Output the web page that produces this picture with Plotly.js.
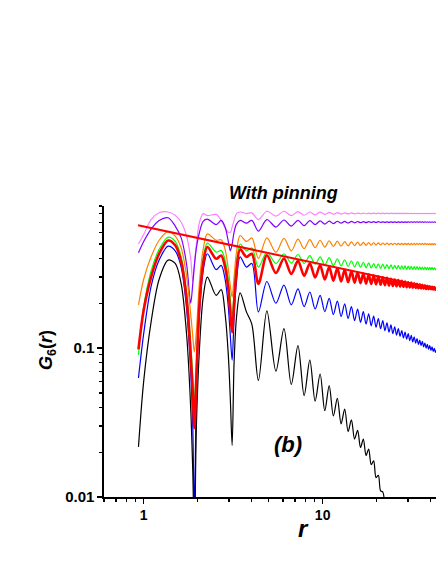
<!DOCTYPE html>
<html>
<head>
<meta charset="utf-8">
<script src="https://cdn.plot.ly/plotly-3.0.1.min.js"></script>
<style>html,body{margin:0;padding:0;background:#fff;}#chart{width:436px;height:564px;}</style>
</head>
<body>
<div id="chart"></div>
<script>
// ---- data ----
const rEarly = [0.935, 1.0, 1.1, 1.22, 1.37, 1.5, 1.62, 1.74, 1.83, 1.88, 1.92, 1.97, 2.05, 2.15, 2.27, 2.54, 2.71, 2.85, 2.97, 3.05, 3.12, 3.2, 3.3, 3.46, 3.75, 4.02, 4.375];
const rLate = [4.88, 5.48, 6.08, 6.68, 7.28, 7.88, 8.48, 9.08, 9.68, 10.28,
  10.88, 11.48, 12.08, 12.68, 13.28, 13.88, 14.48, 15.08, 15.68, 16.28,
  16.88, 17.48, 18.08, 18.68, 19.28, 19.88, 20.48, 21.08, 21.68, 22.28,
  22.88, 23.48, 24.08, 24.68, 25.28, 25.88, 26.48, 27.08, 27.68, 28.28,
  28.88, 29.48, 30.08, 30.68, 31.28, 31.88, 32.48, 33.08, 33.68, 34.28,
  34.88, 35.48, 36.08, 36.68, 37.28, 37.88, 38.48, 39.08, 39.68, 40.28,
  40.88, 41.48, 42.08, 42.68, 43.28];

const gPinkEarly   = [0.50, 0.58, 0.73, 0.81, 0.82, 0.78, 0.70, 0.56, 0.40, 0.28, 0.36, 0.50, 0.70, 0.80, 0.775, 0.79, 0.72, 0.64, 0.60, 0.60, 0.65, 0.72, 0.80, 0.82, 0.80, 0.81, 0.73];
const gVioletEarly = [0.437, 0.52, 0.63, 0.72, 0.75, 0.66, 0.55, 0.36, 0.20, 0.27, 0.36, 0.47, 0.60, 0.71, 0.735, 0.675, 0.72, 0.65, 0.52, 0.45, 0.50, 0.60, 0.68, 0.72, 0.69, 0.72, 0.61];
const gOrangeEarly = [0.195, 0.29, 0.41, 0.53, 0.605, 0.565, 0.47, 0.30, 0.17, 0.12, 0.094, 0.13, 0.28, 0.46, 0.585, 0.53, 0.533, 0.46, 0.34, 0.26, 0.22, 0.30, 0.44, 0.57, 0.52, 0.55, 0.40];
const gGreenEarly  = [0.090, 0.19, 0.33, 0.46, 0.556, 0.52, 0.41, 0.23, 0.11, 0.065, 0.045, 0.08, 0.22, 0.40, 0.507, 0.441, 0.453, 0.39, 0.29, 0.21, 0.165, 0.24, 0.37, 0.50, 0.45, 0.47, 0.35];
const gRedEarly    = [0.098, 0.18, 0.30, 0.43, 0.528, 0.49, 0.38, 0.21, 0.09, 0.05, 0.029, 0.065, 0.20, 0.37, 0.477, 0.398, 0.419, 0.35, 0.25, 0.17, 0.128, 0.20, 0.33, 0.46, 0.41, 0.43, 0.27];
const gBlueEarly   = [0.063, 0.125, 0.26, 0.39, 0.484, 0.45, 0.35, 0.18, 0.07, 0.03, 0.008, 0.05, 0.17, 0.33, 0.43, 0.336, 0.359, 0.29, 0.19, 0.12, 0.083, 0.16, 0.28, 0.41, 0.35, 0.37, 0.175];
const gBlackEarly  = [0.0217, 0.06, 0.15, 0.29, 0.39, 0.37, 0.27, 0.12, 0.04, 0.015, 0.005, 0.03, 0.10, 0.22, 0.30, 0.226, 0.247, 0.17, 0.09, 0.045, 0.0222, 0.08, 0.16, 0.235, 0.175, 0.145, 0.0607];

const gPinkLate = [0.83, 0.77, 0.83, 0.775, 0.825, 0.78, 0.82, 0.785, 0.818, 0.79,
  0.815, 0.792, 0.812, 0.794, 0.81, 0.796, 0.808, 0.797, 0.807, 0.798,
  0.806, 0.798, 0.806, 0.799, 0.805, 0.799, 0.805, 0.8, 0.805, 0.8,
  0.804, 0.8, 0.804, 0.8, 0.804, 0.8, 0.804, 0.8, 0.804, 0.8,
  0.804, 0.8, 0.804, 0.8, 0.804, 0.8, 0.804, 0.8, 0.804, 0.8,
  0.804, 0.8, 0.804, 0.8, 0.804, 0.8, 0.804, 0.8, 0.804, 0.8,
  0.804, 0.8, 0.804, 0.8, 0.804];
const gVioletLate = [0.73, 0.65, 0.725, 0.66, 0.72, 0.665, 0.718, 0.675, 0.715, 0.68,
  0.713, 0.685, 0.711, 0.69, 0.71, 0.692, 0.709, 0.694, 0.708, 0.695,
  0.707, 0.696, 0.707, 0.697, 0.706, 0.697, 0.706, 0.698, 0.705, 0.698,
  0.705, 0.698, 0.705, 0.698, 0.705, 0.698, 0.705, 0.698, 0.705, 0.698,
  0.705, 0.698, 0.705, 0.698, 0.705, 0.698, 0.705, 0.698, 0.705, 0.698,
  0.705, 0.698, 0.705, 0.698, 0.705, 0.698, 0.705, 0.698, 0.705, 0.698,
  0.705, 0.698, 0.705, 0.698, 0.705];
const gOrangeLate = [0.55, 0.44, 0.545, 0.45, 0.54, 0.465, 0.535, 0.472, 0.53, 0.477,
  0.526, 0.481, 0.522, 0.484, 0.519, 0.486, 0.516, 0.488, 0.514, 0.489,
  0.512, 0.49, 0.511, 0.491, 0.51, 0.492, 0.509, 0.493, 0.508, 0.4935,
  0.507, 0.494, 0.506, 0.4945, 0.506, 0.495, 0.505, 0.495, 0.505, 0.495,
  0.505, 0.495, 0.505, 0.495, 0.505, 0.495, 0.505, 0.495, 0.505, 0.495,
  0.505, 0.495, 0.505, 0.495, 0.505, 0.495, 0.504, 0.495, 0.504, 0.495,
  0.504, 0.495, 0.504, 0.495, 0.504];
const gGreenLate = [0.44, 0.37, 0.43, 0.372, 0.425, 0.37, 0.418, 0.366, 0.41, 0.362,
  0.405, 0.358, 0.398, 0.356, 0.392, 0.353, 0.386, 0.351, 0.381, 0.349,
  0.377, 0.347, 0.373, 0.345, 0.37, 0.344, 0.368, 0.343, 0.366, 0.342,
  0.364, 0.341, 0.362, 0.34, 0.36, 0.3395, 0.358, 0.339, 0.357, 0.3385,
  0.356, 0.338, 0.355, 0.3378, 0.354, 0.3375, 0.353, 0.3372, 0.352, 0.337,
  0.351, 0.3368, 0.35, 0.3366, 0.3495, 0.3364, 0.349, 0.3362, 0.3485, 0.336,
  0.348, 0.3358, 0.3475, 0.3356, 0.347];
const gRedLate = [0.42, 0.319, 0.40, 0.315, 0.385, 0.306, 0.37, 0.298, 0.36, 0.289,
  0.35, 0.284, 0.343, 0.280, 0.336, 0.277, 0.329, 0.275, 0.323, 0.273,
  0.317, 0.271, 0.312, 0.270, 0.307, 0.268, 0.303, 0.266, 0.299, 0.264,
  0.296, 0.263, 0.292, 0.261, 0.289, 0.260, 0.286, 0.259, 0.283, 0.258,
  0.280, 0.2566, 0.277, 0.2553, 0.275, 0.2542, 0.272, 0.253, 0.270, 0.252,
  0.268, 0.251, 0.266, 0.2504, 0.264, 0.2496, 0.262, 0.249, 0.260, 0.2483,
  0.258, 0.2476, 0.257, 0.2471, 0.255];
const gBlueLate = [0.28, 0.2, 0.265, 0.195, 0.25, 0.19, 0.238, 0.183, 0.226, 0.176,
  0.216, 0.168, 0.207, 0.163, 0.198, 0.158, 0.19, 0.153, 0.183, 0.149,
  0.176, 0.145, 0.17, 0.141, 0.164, 0.138, 0.158, 0.135, 0.153, 0.131,
  0.148, 0.128, 0.143, 0.125, 0.139, 0.122, 0.135, 0.12, 0.131, 0.117,
  0.128, 0.115, 0.125, 0.112, 0.122, 0.11, 0.119, 0.108, 0.116, 0.106,
  0.113, 0.104, 0.111, 0.102, 0.108, 0.1, 0.106, 0.098, 0.104, 0.0965,
  0.102, 0.095, 0.0995, 0.0935, 0.0975];
const gBlackLate = [0.178, 0.07, 0.135, 0.057, 0.104, 0.048, 0.083, 0.044, 0.067, 0.038,
  0.056, 0.035, 0.046, 0.031, 0.039, 0.0275, 0.033, 0.0245, 0.028, 0.0215,
  0.0245, 0.019, 0.021, 0.0165, 0.0175, 0.0135, 0.014, 0.011, 0.0108, 0.0082];

// power-law fit line (straight on log-log)
const fitR = [0.93, 43.3];
const fitG = [0.668, 0.25];

const xTickVals = [1, 10];
const xTickText = ['1', '10'];
const xMinorVals = [0.6, 0.7, 0.8, 0.9, 2, 3, 4, 5, 6, 7, 8, 9, 20, 30, 40];
const yTickVals = [0.01, 0.1];
const yTickText = ['0.01', '0.1'];
const yMinorVals = [0.02, 0.03, 0.04, 0.05, 0.06, 0.07, 0.08, 0.09, 0.2, 0.3, 0.4, 0.5, 0.6, 0.7, 0.8, 0.9];

// ---- build traces ----
const r = rEarly.concat(rLate);
function curve(early, late, color, width) {
  const g = early.concat(late);
  return {
    x: r.slice(0, g.length), y: g, type: 'scatter', mode: 'lines',
    line: {color: color, width: width, shape: 'spline', smoothing: 0.9},
    hoverinfo: 'skip', showlegend: false
  };
}
const traces = [
  curve(gPinkEarly, gPinkLate, '#ff80ff', 1.2),
  curve(gVioletEarly, gVioletLate, '#8000ff', 1.2),
  curve(gOrangeEarly, gOrangeLate, '#ff8000', 1.2),
  curve(gGreenEarly, gGreenLate, '#00ff00', 1.2),
  curve(gBlueEarly, gBlueLate, '#0000ff', 1.2),
  curve(gBlackEarly, gBlackLate, '#000000', 1.2),
  curve(gRedEarly, gRedLate, '#ff0000', 2.6),
  {x: fitR, y: fitG, type: 'scatter', mode: 'lines', line: {color: '#ff0000', width: 2},
   hoverinfo: 'skip', showlegend: false}
];

const FONT = 'Liberation Sans, Arial, sans-serif';
const layout = {
  width: 436, height: 564,
  margin: {l: 104, r: 0, t: 206, b: 67, pad: 0},
  paper_bgcolor: '#ffffff', plot_bgcolor: '#ffffff',
  showlegend: false,
  xaxis: {
    type: 'log', range: [Math.log10(0.6), Math.log10(43)],
    tickmode: 'array', tickvals: xTickVals, ticktext: xTickText,
    ticks: 'outside', ticklen: 5, tickwidth: 1.5, tickcolor: '#000',
    minor: {tickmode: 'array', tickvals: xMinorVals, ticks: 'outside', ticklen: 3, tickwidth: 1.2, tickcolor: '#000', showgrid: false},
    showline: true, linecolor: '#000', linewidth: 1.6, mirror: false,
    showgrid: false, zeroline: false,
    tickfont: {family: FONT, size: 14, color: '#000', weight: 'bold'}
  },
  yaxis: {
    type: 'log', range: [-2, -0.0458],
    tickmode: 'array', tickvals: yTickVals, ticktext: yTickText,
    ticks: 'outside', ticklen: 5, tickwidth: 1.5, tickcolor: '#000',
    minor: {tickmode: 'array', tickvals: yMinorVals, ticks: 'outside', ticklen: 3, tickwidth: 1.2, tickcolor: '#000', showgrid: false},
    showline: true, linecolor: '#000', linewidth: 1.6, mirror: false,
    showgrid: false, zeroline: false,
    tickfont: {family: FONT, size: 15, color: '#000', weight: 'bold'}
  },
  annotations: [
    {text: '<b><i>With pinning</i></b>', xref: 'paper', yref: 'paper', x: 0.542, y: 1.0437,
     xanchor: 'center', yanchor: 'middle', showarrow: false, font: {family: FONT, size: 18, color: '#000'}},
    {text: '<b><i>(b)</i></b>', xref: 'paper', yref: 'paper', x: 0.554, y: 0.181,
     xanchor: 'center', yanchor: 'middle', showarrow: false, font: {family: FONT, size: 22, color: '#000'}},
    {text: '<b><i>r</i></b>', xref: 'paper', yref: 'paper', x: 0.602, y: -0.107,
     xanchor: 'center', yanchor: 'middle', showarrow: false, font: {family: FONT, size: 24, color: '#000'}},
    {text: '<b><i>G</i><sub>6</sub>(<i>r</i>)</b>', xref: 'paper', yref: 'paper', x: -0.1717, y: 0.505,
     xanchor: 'center', yanchor: 'middle', textangle: -90, showarrow: false, font: {family: FONT, size: 18, color: '#000'}}
  ]
};

Plotly.newPlot('chart', traces, layout, {staticPlot: true, displayModeBar: false});
</script>
</body>
</html>
